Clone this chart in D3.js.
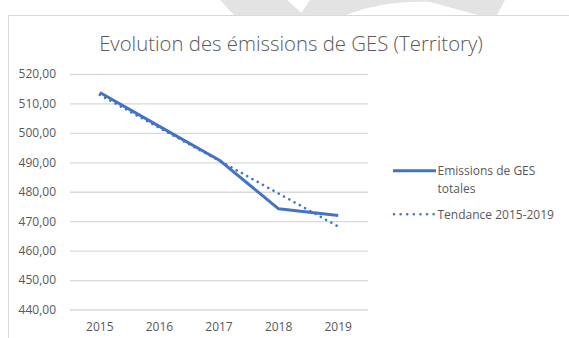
<!DOCTYPE html>
<html>
<head>
<meta charset="utf-8">
<script src="https://cdn.jsdelivr.net/npm/d3@7"></script>
<style>
  html, body { margin: 0; padding: 0; background: #fff; }
  svg { display: block; }
  text { font-family: "Open Sans", "Noto Sans", sans-serif; fill: #595959; }
</style>
</head>
<body>
<svg id="chart" width="569" height="338"></svg>
<script>
// Yearly series
const years = ["2015", "2016", "2017", "2018", "2019"];
const emissions = [513.7, 502.2, 490.8, 474.2, 471.9];
const trend = [512.9, 501.7, 490.6, 479.4, 468.2];
const yTicks = [440, 450, 460, 470, 480, 490, 500, 510, 520];
const titleText = "Evolution des émissions de GES (Territory)";
const seriesNames = ["Emissions de GES", "totales"];
const trendName = "Tendance 2015-2019";

const W = 569, H = 338;
const svg = d3.select("#chart");
const blue = "#4472C4";

// faint background watermark peeking above the chart frame
const wm = svg.append("g").attr("fill", "#e3e3e3");
wm.append("path").attr("d", "M220,0 L287,0 L304,15 L234,15 Z");
wm.append("path").attr("d", "M310,0 L300,15 L346,15 C372,5 400,1 430,2 L478,15 L497,15 L505,0 Z");

// chart frame
svg.append("rect")
  .attr("x", 8.5).attr("y", 15.5)
  .attr("width", W).attr("height", H)
  .attr("fill", "#fff")
  .attr("stroke", "#d9d9d9").attr("stroke-width", 1);

const plot = { left: 70, right: 368, top: 74, bottom: 309.5 };

const x = d3.scaleBand().domain(years).range([plot.left, plot.right]);
const y = d3.scaleLinear().domain([440, 520]).range([plot.bottom, plot.top]);
const cx = d => x(d) + x.bandwidth() / 2;

const fr = d3.formatLocale({ decimal: ",", thousands: " ", grouping: [3], currency: ["", " €"] });
const fmt = fr.format(".2f");

// y axis with gridlines
const yAxis = svg.append("g")
  .attr("transform", `translate(${plot.left},0)`)
  .call(d3.axisLeft(y)
    .tickValues(yTicks)
    .tickFormat(fmt)
    .tickSize(-(plot.right - plot.left))
    .tickPadding(14));
yAxis.select(".domain").remove();
yAxis.selectAll(".tick line").attr("stroke", "#d9d9d9").attr("stroke-width", 1.3);
yAxis.selectAll(".tick text")
  .attr("font-size", 12)
  .attr("font-family", null)
  .attr("fill", "#595959");

// x axis labels
const xAxis = svg.append("g")
  .attr("transform", `translate(0,${plot.bottom})`)
  .call(d3.axisBottom(x).tickSize(0).tickPadding(13));
xAxis.select(".domain").remove();
xAxis.selectAll(".tick text")
  .attr("font-size", 12)
  .attr("font-family", null)
  .attr("fill", "#595959");

const line = d3.line().x((d, i) => cx(years[i])).y(d => y(d));

// trend line (dotted)
svg.append("path")
  .datum(trend)
  .attr("d", line)
  .attr("fill", "none")
  .attr("stroke", blue)
  .attr("stroke-width", 2.6)
  .attr("stroke-linecap", "round")
  .attr("stroke-dasharray", "0.01 6");

// emissions line
svg.append("path")
  .datum(emissions)
  .attr("d", line)
  .attr("fill", "none")
  .attr("stroke", blue)
  .attr("stroke-width", 3)
  .attr("stroke-linejoin", "round");

// title
const title = svg.append("text")
  .attr("x", 291).attr("y", 51)
  .attr("text-anchor", "middle")
  .attr("font-size", 18)
  .attr("font-weight", 300)
  .text(titleText);
const tw = title.node().getComputedTextLength();
title.attr("font-size", 18 * 384 / tw);

// legend
const lg = svg.append("g");
lg.append("line")
  .attr("x1", 393).attr("x2", 436).attr("y1", 170.7).attr("y2", 170.7)
  .attr("stroke", blue).attr("stroke-width", 3);
lg.append("line")
  .attr("x1", 394).attr("x2", 434).attr("y1", 214.3).attr("y2", 214.3)
  .attr("stroke", blue).attr("stroke-width", 2.6)
  .attr("stroke-linecap", "round")
  .attr("stroke-dasharray", "0.01 6.6");
lg.selectAll("text.s")
  .data(seriesNames)
  .join("text")
  .attr("class", "s")
  .attr("x", 437.5)
  .attr("y", (d, i) => 170.7 + i * 18.3)
  .attr("dy", "0.35em")
  .attr("font-size", 12)
  .text(d => d);
lg.append("text")
  .attr("x", 437.5).attr("y", 214.3)
  .attr("dy", "0.35em")
  .attr("font-size", 12)
  .text(trendName);
</script>
</body>
</html>
